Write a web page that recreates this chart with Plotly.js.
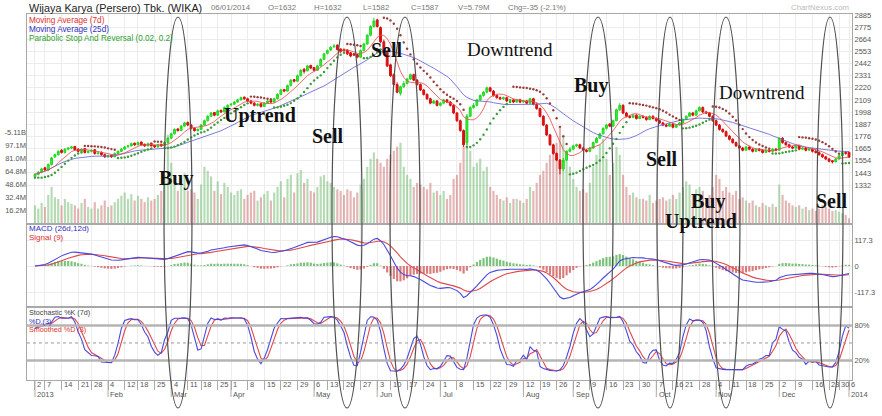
<!DOCTYPE html>
<html><head><meta charset="utf-8">
<script src="https://cdn.plot.ly/plotly-3.0.1.min.js"></script>
<style>html,body{margin:0;padding:0;background:#fff}#chart{width:882px;height:416px}</style>
</head><body><div id="chart"></div>
<script>
// ---------------- DATA ----------------
const holidays = ['2013-01-24','2013-02-11','2013-03-12','2013-03-29','2013-05-09','2013-06-06',
  '2013-08-05','2013-08-06','2013-08-07','2013-08-08','2013-08-09','2013-10-14','2013-10-15',
  '2013-11-05','2013-12-25','2013-12-26','2013-12-31','2014-01-01'];
const monthNames = ['Jan','Feb','Mar','Apr','May','Jun','Jul','Aug','Sep','Oct','Nov','Dec'];
// daily [open, high, low, close, volume(M)]
const jan13 = [[1410,1440,1400,1430,22],[1430,1460,1420,1450,18],[1450,1490,1440,1480,25],[1490,1500,1460,1470,20],[1470,1530,1460,1520,35],[1520,1590,1510,1580,45],[1590,1620,1580,1610,32],[1610,1650,1600,1640,30],[1650,1660,1620,1630,22],[1630,1670,1620,1660,30],[1660,1680,1650,1670,26],[1670,1690,1660,1680,24],[1685,1690,1645,1655,22],[1660,1670,1630,1640,18],[1640,1670,1630,1660,25],[1665,1670,1620,1630,30],[1630,1650,1620,1640,20],[1640,1660,1630,1650,18],[1655,1660,1610,1620,26],[1620,1640,1610,1625,18],[1630,1640,1600,1610,22]];
const feb13 = [[1610,1620,1580,1590,28],[1590,1610,1580,1600,20],[1605,1610,1580,1590,22],[1590,1630,1585,1620,26],[1620,1650,1615,1640,30],[1640,1670,1635,1660,34],[1660,1690,1655,1680,38],[1685,1700,1670,1690,30],[1690,1720,1685,1710,36],[1715,1720,1690,1700,28],[1700,1730,1695,1720,34],[1725,1730,1695,1700,30],[1705,1710,1680,1690,26],[1690,1720,1685,1710,32],[1715,1720,1685,1690,28],[1695,1700,1670,1680,30],[1680,1710,1675,1700,35],[1705,1710,1680,1690,40],[1690,1730,1685,1720,60]];
const mar13 = [[1720,1770,1715,1760,110],[1760,1810,1755,1800,75],[1800,1850,1795,1840,60],[1845,1850,1820,1830,40],[1830,1880,1825,1870,55],[1870,1910,1865,1900,62],[1905,1910,1870,1880,40],[1880,1890,1840,1850,42],[1850,1860,1820,1830,38],[1830,1850,1820,1840,30],[1840,1890,1835,1880,48],[1880,1930,1875,1920,70],[1920,1970,1915,1960,65],[1960,2000,1955,1990,58],[1995,2000,1960,1970,40],[1970,2020,1965,2010,52],[2015,2020,1990,2000,36],[2000,2050,1995,2040,50],[2040,2070,2035,2060,45]];
const apr13 = [[2065,2080,2050,2070,38],[2070,2100,2065,2090,35],[2090,2120,2085,2110,40],[2110,2140,2105,2130,42],[2135,2140,2110,2120,30],[2120,2130,2090,2100,35],[2100,2110,2070,2080,38],[2080,2090,2050,2060,40],[2060,2080,2050,2070,28],[2075,2080,2040,2050,32],[2050,2090,2045,2080,36],[2080,2110,2075,2100,40],[2105,2110,2080,2090,28],[2090,2130,2085,2120,38],[2120,2170,2115,2160,45],[2160,2210,2155,2200,52],[2205,2210,2180,2190,32],[2190,2250,2185,2240,55],[2240,2300,2235,2290,60],[2295,2300,2270,2280,38],[2280,2340,2275,2330,62],[2330,2390,2325,2380,66]];
const may13 = [[2390,2400,2350,2370,50],[2375,2430,2370,2420,55],[2425,2430,2390,2400,40],[2405,2410,2370,2380,38],[2380,2430,2375,2420,45],[2420,2490,2415,2480,58],[2480,2540,2475,2530,60],[2535,2570,2525,2560,52],[2565,2600,2555,2590,50],[2595,2620,2585,2600,45],[2610,2615,2560,2570,42],[2575,2580,2540,2550,40],[2570,2580,2550,2560,35],[2565,2570,2520,2530,42],[2540,2545,2500,2510,40],[2530,2540,2510,2520,32],[2525,2530,2490,2500,38],[2500,2570,2495,2560,48],[2560,2630,2555,2620,55],[2620,2710,2615,2700,70],[2700,2790,2690,2780,80],[2780,2860,2770,2830,88]];
const jun13 = [[2840,2850,2770,2780,80],[2770,2780,2630,2640,75],[2640,2660,2530,2540,70],[2540,2550,2410,2420,80],[2430,2440,2320,2330,85],[2340,2350,2240,2250,90],[2250,2270,2170,2180,95],[2170,2240,2150,2230,100],[2230,2280,2220,2260,70],[2260,2310,2250,2300,60],[2300,2350,2290,2340,55],[2340,2350,2280,2290,45],[2290,2300,2240,2250,50],[2250,2260,2190,2200,48],[2200,2210,2150,2160,45],[2160,2170,2110,2120,42],[2120,2130,2070,2080,50],[2080,2110,2070,2100,38],[2100,2110,2050,2060,40]];
const jul13 = [[2060,2090,2050,2080,35],[2080,2120,2070,2110,40],[2110,2120,2080,2090,30],[2090,2100,2050,2060,35],[2060,2070,1980,1990,55],[1990,2000,1910,1920,60],[1920,1930,1820,1830,75],[1830,1840,1680,1700,95],[1720,1980,1700,1960,135],[1960,2050,1950,2040,90],[2040,2080,2030,2060,70],[2060,2120,2050,2110,75],[2110,2160,2100,2150,80],[2150,2190,2140,2180,65],[2180,2230,2170,2220,70],[2220,2230,2180,2190,45],[2190,2200,2140,2150,40],[2150,2160,2120,2130,35],[2130,2140,2110,2120,30],[2120,2140,2110,2130,28],[2130,2140,2090,2100,32],[2100,2120,2090,2110,25],[2110,2120,2080,2090,30]];
const aug13 = [[2090,2120,2085,2110,30],[2110,2120,2080,2090,28],[2090,2110,2085,2100,25],[2100,2110,2070,2080,30],[2080,2130,2075,2120,45],[2120,2130,2060,2070,40],[2070,2080,2020,2030,50],[2030,2040,1950,1960,60],[1960,1970,1870,1880,65],[1880,1890,1780,1790,75],[1790,1800,1690,1700,85],[1700,1710,1610,1620,95],[1620,1630,1550,1560,100],[1560,1570,1430,1480,120],[1480,1580,1460,1560,110],[1560,1650,1550,1640,90],[1640,1680,1630,1660,70]];
const sep13 = [[1660,1700,1650,1690,55],[1690,1710,1680,1700,45],[1700,1710,1660,1670,40],[1670,1680,1640,1650,42],[1650,1660,1630,1640,38],[1640,1680,1635,1670,50],[1670,1730,1665,1720,70],[1720,1770,1715,1760,85],[1760,1810,1755,1800,98],[1800,1860,1795,1850,105],[1850,1890,1840,1880,80],[1890,1900,1860,1870,60],[1870,1930,1865,1920,75],[1920,2030,1915,2020,95],[2020,2080,2010,2060,85],[2060,2070,1980,1990,60],[1990,2000,1950,1960,45],[1960,1970,1940,1950,35],[1950,1980,1945,1970,38],[1970,1980,1930,1940,32],[1940,1970,1935,1960,30]];
const oct13 = [[1960,1970,1940,1950,30],[1950,1960,1920,1930,28],[1930,1970,1925,1960,35],[1960,1970,1930,1940,25],[1940,1950,1910,1920,28],[1920,1930,1890,1900,30],[1900,1910,1870,1880,32],[1880,1890,1860,1870,28],[1870,1900,1865,1890,30],[1890,1900,1850,1860,35],[1860,1890,1855,1880,30],[1880,1910,1875,1900,38],[1900,1940,1895,1930,45],[1930,1970,1925,1960,52],[1960,2000,1955,1990,48],[1990,2000,1960,1970,35],[1970,2020,1965,2010,42],[2010,2050,2005,2040,45],[2040,2050,1990,2000,40],[2000,2010,1980,1990,30],[1990,2000,1950,1960,35]];
const nov13 = [[1960,1970,1910,1920,45],[1920,1930,1870,1880,60],[1880,1890,1830,1840,55],[1840,1850,1810,1820,40],[1820,1830,1770,1780,45],[1780,1790,1740,1750,38],[1750,1760,1710,1720,35],[1720,1730,1680,1690,40],[1690,1700,1660,1670,30],[1670,1680,1640,1650,32],[1650,1690,1645,1680,28],[1680,1690,1650,1660,25],[1660,1670,1630,1640,28],[1640,1670,1635,1660,22],[1660,1670,1640,1650,20],[1650,1660,1620,1630,25],[1630,1660,1625,1650,22],[1650,1660,1630,1640,20],[1640,1670,1635,1660,24],[1660,1670,1640,1650,20]];
const dec13 = [[1650,1770,1645,1760,48],[1760,1770,1710,1720,35],[1720,1730,1690,1700,28],[1700,1710,1670,1680,25],[1680,1690,1660,1670,22],[1670,1700,1665,1690,20],[1690,1700,1650,1660,22],[1660,1680,1655,1670,18],[1670,1680,1640,1650,20],[1650,1670,1645,1660,16],[1660,1670,1630,1640,18],[1640,1660,1620,1630,15],[1630,1640,1600,1610,18],[1610,1620,1580,1590,22],[1590,1600,1560,1570,20],[1570,1580,1540,1550,18],[1555,1560,1530,1545,15],[1545,1580,1540,1570,16],[1570,1610,1565,1600,14]];
const jan14 = [[1600,1640,1595,1630,12],[1630,1640,1610,1622,10],[1632,1632,1582,1587,5.79]];

// axis tick values / labels
const priceTicks = [1332,1443,1554,1665,1776,1887,1998,2109,2220,2331,2442,2553,2664,2775,2885];
const volTicks = [16.2,32.4,48.6,64.8,81.0,97.1,113.3];
const volTickText = ['16.2M','32.4M','48.6M','64.8M','81.0M','97.1M','-5.11B'];
const macdTicks = [-117.3,0,117.3];
const macdTickText = ['-117.3','0','117.3'];
const stochTicks = [20,80];
const stochTickText = ['20%','80%'];

// ---------------- BUILD ----------------
const rows = [].concat(jan13,feb13,mar13,apr13,may13,jun13,jul13,aug13,sep13,oct13,nov13,dec13,jan14);
const O = rows.map(r=>r[0]), H = rows.map(r=>r[1]), L = rows.map(r=>r[2]), C = rows.map(r=>r[3]), V = rows.map(r=>r[4]);
const N = rows.length;
const X = rows.map((r,i)=>i);

function buildDates(){
  const out=[], hol=new Set(holidays);
  for(let t=Date.UTC(2013,0,2); t<=Date.UTC(2014,0,6); t+=86400000){
    const d=new Date(t), wd=d.getUTCDay();
    if(wd===0||wd===6) continue;
    if(hol.has(d.toISOString().slice(0,10))) continue;
    out.push(d);
  }
  return out;
}
const dates = buildDates();

// indicators
function sma(a,n){return a.map((v,i)=>{const s=Math.max(0,i-n+1);let t=0;for(let j=s;j<=i;j++)t+=a[j];return t/(i-s+1);});}
function ema(a,n){const k=2/(n+1);const o=[a[0]];for(let i=1;i<a.length;i++)o.push(o[i-1]+k*(a[i]-o[i-1]));return o;}
const ma7 = sma(C,7), ma25 = sma(C,25);
const e12 = ema(C,12), e26 = ema(C,26);
const macd = e12.map((v,i)=>v-e26[i]);
const signal = ema(macd,9);
const hist = macd.map((v,i)=>v-signal[i]);
const kRaw = C.map((c,i)=>{const s=Math.max(0,i-6);let hh=-1e9,ll=1e9;for(let j=s;j<=i;j++){hh=Math.max(hh,H[j]);ll=Math.min(ll,L[j]);}return hh===ll?50:(c-ll)/(hh-ll)*100;});
const dK = sma(kRaw,3), sD = sma(dK,3);
const sarUp=[], sarDn=[];
(function(){
  let up=true, af=0.02, ep=H[0], sar=L[0];
  sarUp.push(sar); sarDn.push(null);
  for(let i=1;i<N;i++){
    sar = sar + af*(ep-sar);
    if(up){
      sar = Math.min(sar, L[i-1], i>1?L[i-2]:L[i-1]);
      if(L[i]<sar){up=false; sar=ep; ep=L[i]; af=0.02;}
      else if(H[i]>ep){ep=H[i]; af=Math.min(af+0.02,0.2);}
    } else {
      sar = Math.max(sar, H[i-1], i>1?H[i-2]:H[i-1]);
      if(H[i]>sar){up=true; sar=ep; ep=H[i]; af=0.02;}
      else if(L[i]<ep){ep=L[i]; af=Math.min(af+0.02,0.2);}
    }
    sarUp.push(up?sar:null); sarDn.push(up?null:sar);
  }
})();

const weekKey = d => { const m = new Date(d.getTime() - ((d.getUTCDay()+6)%7)*86400000); return m.toISOString().slice(0,10); };
const weekStarts=[];
dates.forEach((d,i)=>{ if(i===0 || weekKey(d)!==weekKey(dates[i-1])) weekStarts.push(i); });
const monthStarts=[];
weekStarts.forEach((k,j)=>{ if(j===0 || dates[k].getUTCMonth()!==dates[weekStarts[j-1]].getUTCMonth()) monthStarts.push(k); });

// ---------------- LAYOUT HELPERS (pixel -> paper) ----------------
const PL=27, PW=825, PB=380, PH=366;
const px = v => (v-PL)/PW, py = v => (PB-v)/PH;
const XR = [-2.4, 245.9];

const traces = [];
traces.push({type:'bar', x:X, y:V, xaxis:'x', yaxis:'y', width:0.65,
  marker:{color:C.map((c,i)=>c>=O[i]?'rgba(120,190,120,0.55)':'rgba(205,120,120,0.55)'), line:{width:0}}, hoverinfo:'skip'});
traces.push({type:'candlestick', x:X, open:O, high:H, low:L, close:C, xaxis:'x', yaxis:'y2', whiskerwidth:0,
  increasing:{line:{color:'#22d822',width:1}, fillcolor:'#33ee33'},
  decreasing:{line:{color:'#d81010',width:1}, fillcolor:'#d81010'}, hoverinfo:'skip'});
traces.push({type:'scatter', mode:'lines', x:X, y:ma25, xaxis:'x', yaxis:'y2', line:{color:'rgba(100,100,215,0.85)', width:1}, hoverinfo:'skip'});
traces.push({type:'scatter', mode:'lines', x:X, y:ma7, xaxis:'x', yaxis:'y2', line:{color:'rgba(230,80,80,0.85)', width:1}, hoverinfo:'skip'});
traces.push({type:'scatter', mode:'markers', x:X, y:sarUp, xaxis:'x', yaxis:'y2', marker:{color:'#3c9c3c', size:2.4}, hoverinfo:'skip'});
traces.push({type:'scatter', mode:'markers', x:X, y:sarDn, xaxis:'x', yaxis:'y2', marker:{color:'#9a3c3c', size:2.4}, hoverinfo:'skip'});
traces.push({type:'bar', x:X, y:hist, xaxis:'x2', yaxis:'y3', width:0.65,
  marker:{color:hist.map(h=>h>=0?'rgba(90,180,90,0.8)':'rgba(210,90,90,0.8)'), line:{width:0}}, hoverinfo:'skip'});
traces.push({type:'scatter', mode:'lines', x:X, y:signal, xaxis:'x2', yaxis:'y3', line:{color:'#e04848', width:1.1}, hoverinfo:'skip'});
traces.push({type:'scatter', mode:'lines', x:X, y:macd, xaxis:'x2', yaxis:'y3', line:{color:'#4848e0', width:1.1}, hoverinfo:'skip'});
traces.push({type:'scatter', mode:'lines', x:X, y:sD, xaxis:'x3', yaxis:'y4', line:{color:'#e04848', width:1.1}, hoverinfo:'skip'});
traces.push({type:'scatter', mode:'lines', x:X, y:dK, xaxis:'x3', yaxis:'y4', line:{color:'#4848e0', width:1.1}, hoverinfo:'skip'});

const gridC = '#ececec', lineC = '#a8a8a8', tickF = {family:'Liberation Sans, Arial, sans-serif', size:7.5, color:'#555'};
const xBase = {range:XR, tickmode:'array', tickvals:weekStarts, showticklabels:false, ticks:'', showgrid:true, gridcolor:gridC,
  zeroline:false, showline:true, mirror:true, linecolor:lineC, fixedrange:true};

const annotations = [];
const serifB = {family:'Liberation Serif, Times New Roman, serif', size:20, color:'#111', weight:'bold'};
const serifR = {family:'Liberation Serif, Times New Roman, serif', size:19, color:'#111'};
[['Buy',176,179,serifB],['Uptrend',260,116,serifB],['Sell',328,136,serifB],['Sell',387,50,serifB],['Downtrend',510,49,serifR],
 ['Buy',591,85,serifB],['Sell',662,159,serifB],['Downtrend',762,92,serifR],['Buy',708,201,serifB],['Uptrend',701,221,serifB],['Sell',832,201,serifB]]
 .forEach(a=>annotations.push({text:a[0], xref:'paper', yref:'paper', x:px(a[1]), y:py(a[2]), xanchor:'center', yanchor:'middle', showarrow:false, font:a[3]}));
const sm = (t,x,y,c,s,anchor) => annotations.push({text:t, xref:'paper', yref:'paper', x:px(x), y:py(y), xanchor:anchor||'left', yanchor:'middle', showarrow:false,
  borderpad:0, font:{family:'Liberation Sans, Arial, sans-serif', size:s||8, color:c}});
sm('Wijaya Karya (Persero) Tbk. (WIKA)',28,8,'#222',10.8);
sm('06/01/2014',210,8,'#777',7.8); sm('O=1632',267,8,'#777',7.8); sm('H=1632',313,8,'#777',7.8); sm('L=1582',362,8,'#777',7.8);
sm('C=1587',410,8,'#777',7.8); sm('V=5.79M',457,8,'#777',7.8); sm('Chg=-35 (-2.1%)',507,8,'#777',7.8);
sm('ChartNexus.com',850,8,'#bbb',7.8,'right');
sm('Moving Average (7d)',28,20.5,'#e03030',8.2); sm('Moving Average (25d)',28,29.8,'#3030c0',8.2); sm('Parabolic Stop And Reversal (0.02, 0.2)',28,39,'#2e9e2e',8.2);
sm('MACD (26d,12d)',28,228,'#3030c0',8); sm('Signal (9)',28,237,'#e03030',8);
sm('Stochastic %K (7d)',28,312.5,'#444',7.2); sm('%D (3)',28,321,'#3030c0',7.2); sm('Smoothed %D (3)',28,329.5,'#e03030',7.2);
weekStarts.forEach(k=>annotations.push({text:String(dates[k].getUTCDate()), xref:'x3', yref:'paper', x:k+0.4, y:py(385), xanchor:'left', yanchor:'middle',
  showarrow:false, borderpad:0, font:tickF}));
monthStarts.forEach(k=>{ const m=dates[k].getUTCMonth(); annotations.push({text: m===0?String(dates[k].getUTCFullYear()):monthNames[m], xref:'x3', yref:'paper',
  x:k+0.4, y:py(394), xanchor:'left', yanchor:'middle', showarrow:false, borderpad:0, font:tickF}); });

const shapes = [];
shapes.push({type:'line', xref:'paper', x0:0, x1:1, yref:'y4', y0:80, y1:80, line:{color:'#b4b4b4', width:2.5}});
shapes.push({type:'line', xref:'paper', x0:0, x1:1, yref:'y4', y0:20, y1:20, line:{color:'#b4b4b4', width:2.5}});
shapes.push({type:'line', xref:'paper', x0:0, x1:1, yref:'y4', y0:50, y1:50, line:{color:'#999', width:1, dash:'dot'}});
monthStarts.forEach(k=>shapes.push({type:'line', xref:'x3', x0:k, x1:k, yref:'paper', y0:0, y1:py(397), line:{color:'#aaa', width:1}}));
[[164,192],[332,362],[390,420],[583,613],[657,683],[712,740],[817,843]].forEach(e=>shapes.push({type:'circle', xref:'paper', yref:'paper',
  x0:px(e[0]), x1:px(e[1]), y0:py(408), y1:py(17), line:{color:'#505050', width:1.2}, layer:'above'}));

const layout = {
  width:882, height:416, margin:{l:PL, r:882-PL-PW, t:14, b:416-PB},
  paper_bgcolor:'#fff', plot_bgcolor:'#fff', showlegend:false, boxgap:0.2, bargap:0.3,
  font:{family:'Liberation Sans, Arial, sans-serif', size:8, color:'#555'},
  xaxis:Object.assign({}, xBase, {anchor:'y', rangeslider:{visible:false}}),
  xaxis2:Object.assign({}, xBase, {anchor:'y3'}),
  xaxis3:Object.assign({}, xBase, {anchor:'y4', ticks:'outside', ticklen:9, tickcolor:'#aaa', tickwidth:1}),
  yaxis:{domain:[py(223),1], range:[0,(223-14)*1.246], side:'left', tickmode:'array', tickvals:volTicks, ticktext:volTickText,
    showgrid:false, zeroline:false, ticks:'', tickfont:tickF, fixedrange:true, showline:false},
  yaxis2:{overlaying:'y', anchor:'x', side:'right', range:[986,2894], tickmode:'array', tickvals:priceTicks, ticktext:priceTicks.map(String),
    showgrid:true, gridcolor:gridC, zeroline:false, ticks:'', tickfont:tickF, showline:true, mirror:true, linecolor:lineC, fixedrange:true},
  yaxis3:{domain:[py(306),py(225)], anchor:'x2', side:'right', range:[-180,185], tickmode:'array', tickvals:macdTicks, ticktext:macdTickText,
    showgrid:true, gridcolor:gridC, zeroline:false, ticks:'', tickfont:tickF, showline:true, mirror:true, linecolor:lineC, fixedrange:true},
  yaxis4:{domain:[0,py(308)], anchor:'x3', side:'right', range:[-13.5,110], tickmode:'array', tickvals:stochTicks, ticktext:stochTickText,
    showgrid:false, zeroline:false, ticks:'', tickfont:tickF, showline:true, mirror:true, linecolor:lineC, fixedrange:true},
  annotations:annotations, shapes:shapes
};
Plotly.newPlot('chart', traces, layout, {displayModeBar:false, staticPlot:true});
</script></body></html>
